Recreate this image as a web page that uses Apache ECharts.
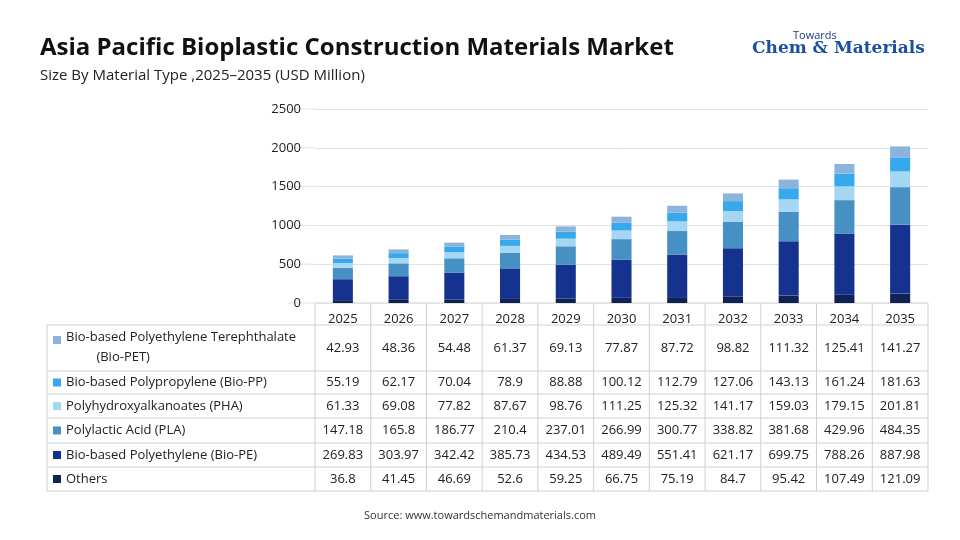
<!DOCTYPE html>
<html><head><meta charset="utf-8">
<script src="https://cdn.jsdelivr.net/npm/echarts@6/dist/echarts.min.js"></script>
<style>html,body{margin:0;background:#fff}#c{width:960px;height:540px}</style></head>
<body><div id="c"></div>
<script>
const years=['2025','2026','2027','2028','2029','2030','2031','2032','2033','2034','2035'];
const others=[36.8,41.45,46.69,52.6,59.25,66.75,75.19,84.7,95.42,107.49,121.09];
const biope=[269.83,303.97,342.42,385.73,434.53,489.49,551.41,621.17,699.75,788.26,887.98];
const pla=[147.18,165.8,186.77,210.4,237.01,266.99,300.77,338.82,381.68,429.96,484.35];
const pha=[61.33,69.08,77.82,87.67,98.76,111.25,125.32,141.17,159.03,179.15,201.81];
const biopp=[55.19,62.17,70.04,78.9,88.88,100.12,112.79,127.06,143.13,161.24,181.63];
const biopet=[42.93,48.36,54.48,61.37,69.13,77.87,87.72,98.82,111.32,125.41,141.27];
const yTicks=[0,500,1000,1500,2000,2500];
const series=[
 {name:'Others',data:others,color:'#0f2352'},
 {name:'Bio-based Polyethylene (Bio-PE)',data:biope,color:'#15328f'},
 {name:'Polylactic Acid (PLA)',data:pla,color:'#4690c4'},
 {name:'Polyhydroxyalkanoates (PHA)',data:pha,color:'#a5d6f2'},
 {name:'Bio-based Polypropylene (Bio-PP)',data:biopp,color:'#36a9ec'},
 {name:'Bio-based Polyethylene Terephthalate\n(Bio-PET)',data:biopet,color:'#8db3dc'}
];
const L=315,R=928,W=(R-L)/11,tableLeft=47,T=109,B=303;
const rowTops=[325,371,394,418,443,467,491];
const g=[];
const lineC='#d0d0d0';
yTicks.forEach(t=>{const y=B-(B-T)*t/2500;g.push({type:'line',shape:{x1:288,y1:y,x2:L,y2:y},style:{stroke:'#e2e2e2'}});});
g.push({type:'line',shape:{x1:L,y1:303,x2:R,y2:303},style:{stroke:lineC}});
for(let i=0;i<=11;i++){g.push({type:'line',shape:{x1:L+i*W,y1:303,x2:L+i*W,y2:491},style:{stroke:lineC}});}
g.push({type:'line',shape:{x1:tableLeft,y1:325,x2:tableLeft,y2:491},style:{stroke:lineC}});
rowTops.forEach(y=>g.push({type:'line',shape:{x1:tableLeft,y1:y,x2:R,y2:y},style:{stroke:lineC}}));
const rows=series.slice().reverse();
rows.forEach((s,r)=>{
 const y0=rowTops[r],y1=rowTops[r+1],cy=(y0+y1)/2;
 g.push({type:'rect',shape:{x:53,y:(r==0?336:cy-4),width:8,height:8},style:{fill:s.color}});
 g.push({type:'text',x:66,y:(r==0?cy-1:cy),style:{text:r==0?'Bio-based Polyethylene Terephthalate\n         (Bio-PET)':s.name,font:'13px "Open Sans", sans-serif',fill:'#222',verticalAlign:'middle',align:'left',lineHeight:20}});
 s.data.forEach((v,i)=>g.push({type:'text',x:L+i*W+W/2,y:cy,style:{text:String(v),font:'13px "Open Sans", sans-serif',fill:'#222',align:'center',verticalAlign:'middle'}}));
});
g.push({type:'text',x:40,y:48,style:{text:'Asia Pacific Bioplastic Construction Materials Market',font:'bold 24px "Open Sans", sans-serif',fill:'#111',verticalAlign:'middle'}});
g.push({type:'text',x:40,y:76,style:{text:'Size By Material Type ,2025–2035 (USD Million)',font:'15px "Open Sans", sans-serif',fill:'#222',verticalAlign:'middle'}});
g.push({type:'text',x:793,y:36,style:{text:'Towards',font:'11px "Open Sans", sans-serif',fill:'#1b3a7a',verticalAlign:'middle'}});
g.push({type:'text',x:752,y:49,style:{text:'Chem & Materials',font:'bold 17px "DejaVu Serif", serif',fill:'#1b4fa0',verticalAlign:'middle'}});
g.push({type:'text',x:480,y:516,style:{text:'Source: www.towardschemandmaterials.com',font:'11px "Open Sans", sans-serif',fill:'#333',align:'center',verticalAlign:'middle'}});
const chart=echarts.init(document.getElementById('c'));
chart.setOption({
 animation:false,
 grid:{left:L,right:960-R,top:T,bottom:540-B},
 xAxis:{type:'category',data:years,axisLine:{show:false},axisTick:{show:false},axisLabel:{margin:10,fontSize:13,color:'#222',fontFamily:'Open Sans'}},
 yAxis:{type:'value',min:0,max:2500,interval:500,axisLabel:{fontSize:13,color:'#222',fontFamily:'Open Sans',margin:14,formatter:v=>String(v)},splitLine:{lineStyle:{color:'#e2e2e2'}}},
 series:series.map(s=>({type:'bar',name:s.name,stack:'a',data:s.data,itemStyle:{color:s.color},barWidth:'36%'})),
 graphic:g
});
</script></body></html>
